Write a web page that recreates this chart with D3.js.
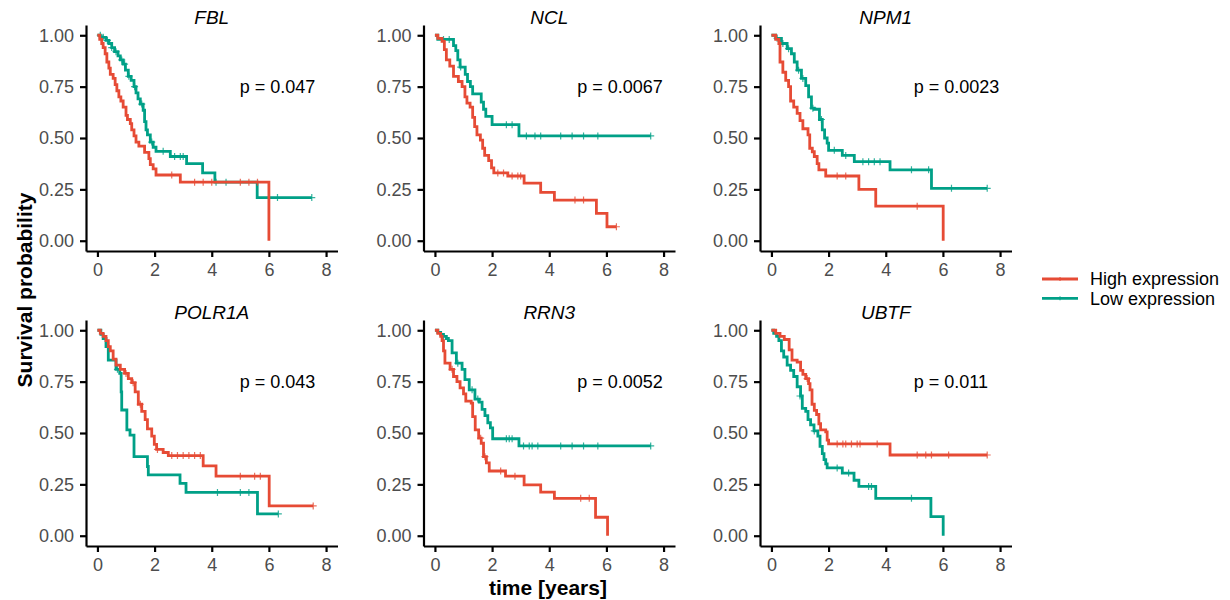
<!DOCTYPE html>
<html>
<head>
<meta charset="utf-8">
<script src="https://cdn.jsdelivr.net/npm/d3@7"></script>
<style>
  body { margin: 0; background: #fff; }
  svg text { font-family: "Liberation Sans", Arial, sans-serif; }
</style>
</head>
<body>
<div id="chart"></div>
<script>
// Kaplan-Meier panels, values
const genes = ['FBL', 'NCL', 'NPM1', 'POLR1A', 'RRN3', 'UBTF'];
const pValues = ['0.047', '0.0067', '0.0023', '0.043', '0.0052', '0.011'];
const xTicks = [0, 2, 4, 6, 8];
const yTicks = [0, 0.25, 0.5, 0.75, 1];
const groupLabels = ['High expression', 'Low expression'];

// [time, survival] steps; last entry is the end of the curve
const fblHigh = [[0,1],[0.08,0.98],[0.15,0.96],[0.2,0.94],[0.27,0.91],[0.33,0.87],[0.4,0.84],[0.45,0.81],[0.55,0.79],[0.62,0.76],[0.68,0.73],[0.75,0.7],[0.82,0.68],[0.9,0.65],[1.0,0.61],[1.05,0.59],[1.15,0.57],[1.2,0.54],[1.28,0.51],[1.35,0.48],[1.45,0.46],[1.65,0.43],[1.8,0.4],[1.85,0.37],[1.95,0.35],[2.05,0.32],[2.9,0.285],[6.0,0]];
const fblHighCens = [[2.6,0.32],[3.4,0.285],[3.7,0.285],[4.0,0.285],[5.0,0.285],[5.3,0.285],[5.6,0.285]];
const fblLow = [[0,1],[0.1,0.99],[0.3,0.975],[0.4,0.96],[0.5,0.94],[0.6,0.92],[0.72,0.9],[0.8,0.88],[0.9,0.86],[0.98,0.83],[1.08,0.8],[1.18,0.78],[1.28,0.75],[1.35,0.72],[1.42,0.69],[1.5,0.665],[1.6,0.635],[1.65,0.58],[1.7,0.54],[1.75,0.515],[1.85,0.48],[1.95,0.455],[2.05,0.435],[2.55,0.41],[3.12,0.375],[3.68,0.33],[4.11,0.285],[5.59,0.21],[7.5,0.21]];
const fblLowCens = [[0.1,1],[0.2,0.99],[0.35,0.975],[0.5,0.94],[0.65,0.92],[0.85,0.88],[0.95,0.86],[1.1,0.8],[1.3,0.75],[1.55,0.665],[1.9,0.48],[2.3,0.435],[2.7,0.41],[2.9,0.41],[3.0,0.41],[4.15,0.285],[4.5,0.285],[6.3,0.21],[7.5,0.21]];

const nclHigh = [[0,1],[0.1,0.985],[0.25,0.97],[0.33,0.93],[0.4,0.88],[0.52,0.85],[0.65,0.8],[0.82,0.775],[0.95,0.75],[1.05,0.7],[1.12,0.67],[1.23,0.65],[1.32,0.6],[1.39,0.555],[1.47,0.515],[1.59,0.49],[1.67,0.45],[1.74,0.415],[1.88,0.39],[1.98,0.355],[2.06,0.33],[2.55,0.315],[3.12,0.28],[3.7,0.235],[4.18,0.198],[5.65,0.133],[6.02,0.068],[6.35,0.068]];
const nclHighCens = [[2.2,0.33],[2.4,0.33],[2.7,0.315],[2.9,0.315],[3.0,0.315],[4.9,0.198],[5.2,0.198],[6.35,0.068]];
const nclLow = [[0,1],[0.1,0.98],[0.65,0.95],[0.73,0.925],[0.8,0.88],[0.88,0.845],[1.06,0.81],[1.14,0.775],[1.24,0.75],[1.32,0.715],[1.62,0.675],[1.7,0.64],[1.78,0.605],[2.0,0.565],[2.94,0.51],[7.55,0.51]];
const nclLowCens = [[0.3,0.98],[0.5,0.98],[0.9,0.845],[2.5,0.565],[2.7,0.565],[3.2,0.51],[3.5,0.51],[3.7,0.51],[4.4,0.51],[4.8,0.51],[5.2,0.51],[5.7,0.51],[7.55,0.51]];

const npm1High = [[0,1],[0.15,0.98],[0.26,0.96],[0.3,0.87],[0.4,0.82],[0.5,0.78],[0.6,0.75],[0.67,0.68],[0.78,0.65],[0.9,0.62],[1.0,0.585],[1.1,0.545],[1.28,0.515],[1.34,0.45],[1.43,0.433],[1.5,0.41],[1.6,0.375],[1.66,0.345],[1.9,0.315],[3.06,0.25],[3.65,0.168],[6.01,0]];
const npm1HighCens = [[2.3,0.315],[2.6,0.315],[5.1,0.168]];
const npm1Low = [[0,1],[0.15,0.985],[0.35,0.96],[0.55,0.935],[0.7,0.91],[0.8,0.87],[0.9,0.83],[1.05,0.79],[1.2,0.755],[1.3,0.7],[1.4,0.645],[1.5,0.64],[1.68,0.59],[1.78,0.54],[1.86,0.5],[1.95,0.475],[2.0,0.44],[2.48,0.415],[2.9,0.385],[4.15,0.345],[5.6,0.255],[7.55,0.255]];
const npm1LowCens = [[0.2,0.985],[0.4,0.96],[0.6,0.935],[0.95,0.83],[1.1,0.79],[1.45,0.645],[1.75,0.59],[2.2,0.44],[2.6,0.415],[3.2,0.385],[3.4,0.385],[3.6,0.385],[3.8,0.385],[4.9,0.345],[5.5,0.345],[6.3,0.255],[7.55,0.255]];

const polr1aHigh = [[0,1],[0.1,0.985],[0.2,0.97],[0.3,0.95],[0.38,0.92],[0.45,0.9],[0.55,0.86],[0.65,0.83],[0.8,0.81],[0.95,0.79],[1.08,0.765],[1.2,0.745],[1.32,0.7],[1.43,0.64],[1.55,0.605],[1.67,0.565],[1.75,0.52],[1.9,0.485],[1.99,0.445],[2.07,0.42],[2.3,0.405],[2.48,0.39],[3.7,0.34],[4.15,0.29],[6.01,0.145],[7.55,0.145]];
const polr1aHighCens = [[1.0,0.79],[1.25,0.745],[1.5,0.64],[2.1,0.42],[2.6,0.39],[2.8,0.39],[3.0,0.39],[3.2,0.39],[3.4,0.39],[3.6,0.39],[5.0,0.29],[5.5,0.29],[5.7,0.29],[7.55,0.145]];
const polr1aLow = [[0,1],[0.12,0.98],[0.2,0.96],[0.3,0.92],[0.38,0.855],[0.65,0.81],[0.78,0.79],[0.83,0.7],[0.85,0.612],[1.03,0.515],[1.14,0.49],[1.28,0.385],[1.75,0.337],[1.78,0.296],[2.89,0.255],[3.1,0.211],[5.6,0.106],[6.33,0.106]];
const polr1aLowCens = [[0.7,0.81],[4.2,0.211],[5.0,0.211],[5.3,0.211],[6.33,0.106]];

const rrn3High = [[0,1],[0.1,0.985],[0.2,0.97],[0.25,0.95],[0.3,0.9],[0.35,0.84],[0.53,0.81],[0.65,0.775],[0.77,0.75],[0.88,0.72],[1.0,0.69],[1.08,0.655],[1.27,0.645],[1.32,0.58],[1.41,0.515],[1.53,0.475],[1.62,0.45],[1.7,0.385],[1.8,0.355],[1.9,0.315],[2.47,0.29],[3.12,0.248],[3.7,0.212],[4.18,0.182],[5.62,0.09],[6.04,0]];
const rrn3HighCens = [[0.6,0.81],[1.6,0.475],[1.75,0.385],[2.3,0.315],[2.8,0.29],[5.1,0.182],[5.4,0.182]];
const rrn3Low = [[0,1],[0.1,0.99],[0.2,0.98],[0.3,0.97],[0.4,0.96],[0.47,0.95],[0.6,0.89],[0.75,0.84],[0.95,0.81],[1.05,0.76],[1.2,0.71],[1.4,0.665],[1.55,0.65],[1.65,0.615],[1.75,0.585],[1.85,0.55],[1.94,0.525],[2.02,0.472],[2.94,0.437],[7.55,0.437]];
const rrn3LowCens = [[0.3,0.97],[0.8,0.84],[1.3,0.71],[1.5,0.665],[2.5,0.472],[2.6,0.472],[2.7,0.472],[3.1,0.437],[3.3,0.437],[3.4,0.437],[3.6,0.437],[4.4,0.437],[4.8,0.437],[5.2,0.437],[5.7,0.437],[7.55,0.437]];

const ubtfHigh = [[0,1],[0.15,0.985],[0.3,0.97],[0.45,0.955],[0.62,0.905],[0.72,0.855],[0.9,0.845],[1.02,0.805],[1.1,0.785],[1.2,0.765],[1.3,0.74],[1.35,0.71],[1.42,0.64],[1.5,0.61],[1.58,0.59],[1.66,0.545],[1.72,0.515],[1.9,0.505],[1.95,0.465],[2.0,0.447],[4.15,0.393],[7.55,0.393]];
const ubtfHighCens = [[1.25,0.765],[2.3,0.447],[2.5,0.447],[2.6,0.447],[2.8,0.447],[3.0,0.447],[3.1,0.447],[3.7,0.447],[5.1,0.393],[5.4,0.393],[5.6,0.393],[6.2,0.393],[7.55,0.393]];
const ubtfLow = [[0,1],[0.08,0.985],[0.18,0.97],[0.26,0.95],[0.35,0.9],[0.43,0.87],[0.55,0.83],[0.67,0.805],[0.78,0.775],[0.9,0.725],[1.02,0.68],[1.08,0.62],[1.2,0.605],[1.28,0.565],[1.37,0.54],[1.49,0.51],[1.625,0.485],[1.7,0.435],[1.78,0.4],[1.84,0.37],[1.9,0.35],[1.95,0.33],[2.48,0.305],[2.89,0.27],[3.06,0.24],[3.65,0.182],[5.58,0.093],[6.01,0]];
const ubtfLowCens = [[1.0,0.68],[1.5,0.51],[2.3,0.33],[2.7,0.305],[3.4,0.24],[3.5,0.24],[4.9,0.182]];

const colors = ['#E64B35', '#00A087'];

const panels = [
  { high: fblHigh, highCens: fblHighCens, low: fblLow, lowCens: fblLowCens },
  { high: nclHigh, highCens: nclHighCens, low: nclLow, lowCens: nclLowCens },
  { high: npm1High, highCens: npm1HighCens, low: npm1Low, lowCens: npm1LowCens },
  { high: polr1aHigh, highCens: polr1aHighCens, low: polr1aLow, lowCens: polr1aLowCens },
  { high: rrn3High, highCens: rrn3HighCens, low: rrn3Low, lowCens: rrn3LowCens },
  { high: ubtfHigh, highCens: ubtfHighCens, low: ubtfLow, lowCens: ubtfLowCens }
].map((p, i) => ({ ...p, gene: genes[i], pval: pValues[i] }));

const width = 1230, height = 600;
const colLeft = [86, 423.5, 760];
const rowTop = [25, 320];
const panelW = 251.5, panelH = 226;

const svg = d3.select('#chart')
  .append('svg')
  .attr('width', width)
  .attr('height', height);

panels.forEach((p, i) => {
  const left = colLeft[i % 3];
  const top = rowTop[Math.floor(i / 3)];

  const x = d3.scaleLinear().domain([-0.4, 8.4]).range([left, left + panelW]);
  const y = d3.scaleLinear().domain([-0.05, 1.05]).range([top + panelH, top]);

  const g = svg.append('g').attr('class', 'panel');

  // axes
  const xAxis = g.append('g')
    .attr('transform', `translate(0, ${top + panelH})`)
    .call(d3.axisBottom(x).tickValues(xTicks).tickSize(6).tickSizeOuter(0).tickPadding(6));
  const yAxis = g.append('g')
    .attr('transform', `translate(${left}, 0)`)
    .call(d3.axisLeft(y).tickValues(yTicks).tickFormat(d3.format('.2f')).tickSize(6).tickSizeOuter(0).tickPadding(6));

  [xAxis, yAxis].forEach(a => {
    a.select('.domain').attr('stroke', '#000').attr('stroke-width', 2.2);
    a.selectAll('.tick line').attr('stroke', '#000').attr('stroke-width', 2.2);
    a.selectAll('.tick text')
      .attr('fill', '#4D4D4D')
      .style('font-size', '18px');
  });
  xAxis.selectAll('.tick text').attr('dy', '0.74em');

  // survival curves
  const line = d3.line()
    .x(d => x(d[0]))
    .y(d => y(d[1]))
    .curve(d3.curveStepAfter);

  const groups = [[p.high, p.highCens], [p.low, p.lowCens]];
  // draw low first so the high curve sits on top
  [1, 0].forEach(k => {
    const [steps, cens] = groups[k];
    g.append('path')
      .datum(steps)
      .attr('fill', 'none')
      .attr('stroke', colors[k])
      .attr('stroke-width', 2.8)
      .attr('d', line);

    g.selectAll(null)
      .data(cens)
      .enter()
      .append('path')
      .attr('d', d => {
        const cx = x(d[0]), cy = y(d[1]), r = 3.5;
        return `M${cx - r},${cy}H${cx + r}M${cx},${cy - r}V${cy + r}`;
      })
      .attr('stroke', colors[k])
      .attr('stroke-width', 1.2)
      .attr('opacity', 0.8);
  });

  // title and p-value
  g.append('text')
    .attr('x', left + panelW / 2)
    .attr('y', top - 1)
    .attr('text-anchor', 'middle')
    .style('font-size', '19px')
    .style('font-style', 'italic')
    .text(p.gene);

  g.append('text')
    .attr('x', x(4.98))
    .attr('y', y(0.75))
    .attr('dy', '0.35em')
    .style('font-size', '18px')
    .attr('fill', '#000')
    .text(`p = ${p.pval}`);
});

// shared axis titles
svg.append('text')
  .attr('transform', 'translate(32, 290) rotate(-90)')
  .attr('text-anchor', 'middle')
  .style('font-size', '21px')
  .style('font-weight', 'bold')
  .text('Survival probability');

svg.append('text')
  .attr('x', 548)
  .attr('y', 595)
  .attr('text-anchor', 'middle')
  .style('font-size', '21px')
  .style('font-weight', 'bold')
  .text('time [years]');

// legend
const legend = svg.append('g').attr('class', 'legend');
groupLabels.forEach((label, k) => {
  const ly = 279 + k * 19.3;
  legend.append('line')
    .attr('x1', 1042).attr('x2', 1078)
    .attr('y1', ly).attr('y2', ly)
    .attr('stroke', colors[k])
    .attr('stroke-width', 2.8);
  legend.append('line')
    .attr('x1', 1060).attr('x2', 1060)
    .attr('y1', ly - 2).attr('y2', ly + 2)
    .attr('stroke', colors[k])
    .attr('stroke-width', 1);
  legend.append('text')
    .attr('x', 1090)
    .attr('y', ly)
    .attr('dy', '0.35em')
    .style('font-size', '18px')
    .text(label);
});
</script>
</body>
</html>
